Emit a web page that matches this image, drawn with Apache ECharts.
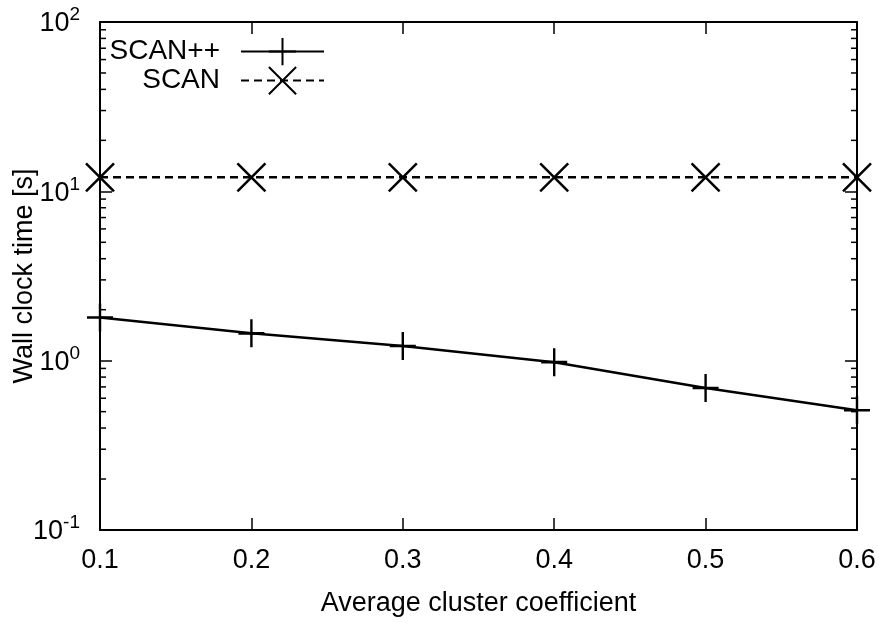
<!DOCTYPE html>
<html>
<head>
<meta charset="utf-8">
<script src="https://cdn.jsdelivr.net/npm/echarts@6/dist/echarts.min.js"></script>
<style>
  html, body { margin: 0; padding: 0; background: #fff; }
  #chart { width: 883px; height: 623px; }
</style>
</head>
<body>
<div id="chart"></div>
<script>
// Average cluster coefficient on the x axis
const coefficients = [0.1, 0.2, 0.3, 0.4, 0.5, 0.6];
// Wall clock time in seconds
const scanPlusPlus = [1.80, 1.45, 1.22, 0.98, 0.69, 0.51];
const scan = [12.1, 12.1, 12.1, 12.1, 12.1, 12.1];
// Minor tick values for the logarithmic y axis
const minorTicks = [];
[0.1, 1, 10].forEach(function (d) {
  for (let k = 2; k <= 9; k++) minorTicks.push(+(k * d).toPrecision(3));
});

const FONT = '"Liberation Sans", Arial, Helvetica, sans-serif';
const plusSymbol = 'path://M0,10L20,10M10,0L10,20';
const crossSymbol = 'path://M0,0L20,20M20,0L0,20';

const chart = echarts.init(document.getElementById('chart'), null, { renderer: 'canvas' });

function pair(arr) {
  return coefficients.map(function (x, i) { return [x, arr[i]]; });
}

const axisLine = { show: true, onZero: false, lineStyle: { color: '#000', width: 2 } };
const majorTick = { show: true, inside: true, length: 12, lineStyle: { color: '#000', width: 1.5 } };

function legendBlock(name, top) {
  return {
    data: [name], top: top, right: 883 - 325, align: 'right', padding: 0,
    itemWidth: 83, itemHeight: 34, selectedMode: false,
    textStyle: { fontSize: 28, fontFamily: FONT, color: '#000', padding: [0, 16, 0, 0] }
  };
}

const option = {
  animation: false,
  backgroundColor: '#fff',
  textStyle: { fontFamily: FONT, color: '#000' },
  grid: { left: 100, right: 26, top: 22, bottom: 93, containLabel: false, outerBoundsMode: 'none' },
  legend: [legendBlock('SCAN++', 37), legendBlock('SCAN', 66)],
  xAxis: [
    {
      type: 'value', min: 0.1, max: 0.6, interval: 0.1, position: 'bottom',
      name: 'Average cluster coefficient', nameLocation: 'middle', nameGap: 60,
      nameTextStyle: { fontSize: 27, fontFamily: FONT, color: '#000' },
      axisLine: axisLine, axisTick: majorTick, splitLine: { show: false },
      axisLabel: {
        fontSize: 27, fontFamily: FONT, color: '#000', margin: 17,
        formatter: function (v) { return v.toFixed(1); }
      }
    },
    {
      type: 'value', min: 0.1, max: 0.6, interval: 0.1, position: 'top',
      axisLine: axisLine, axisTick: majorTick, splitLine: { show: false },
      axisLabel: { show: false }
    }
  ],
  yAxis: [
    {
      type: 'log', logBase: 10, min: 0.1, max: 100, interval: 1, position: 'left',
      name: 'Wall clock time [s]', nameLocation: 'middle', nameGap: 62, nameMoveOverlap: false,
      nameTextStyle: { fontSize: 27, fontFamily: FONT, color: '#000' },
      axisLine: axisLine, axisTick: majorTick, splitLine: { show: false },
      axisLabel: {
        margin: 20, color: '#000',
        formatter: function (v) {
          const e = Math.round(Math.log10(v));
          return '{b|10}{s|' + e + '}';
        },
        rich: {
          b: { fontSize: 27, fontFamily: FONT, color: '#000', padding: [4, 0, 0, 0] },
          s: { fontSize: 19, fontFamily: FONT, color: '#000', padding: [0, 0, 14, 0] }
        }
      }
    },
    {
      type: 'log', logBase: 10, min: 0.1, max: 100, interval: 1, position: 'right',
      axisLine: axisLine, axisTick: majorTick, splitLine: { show: false },
      axisLabel: { show: false }
    }
  ],
  series: [
    {
      name: 'minor ticks', type: 'custom', xAxisIndex: 0, yAxisIndex: 0,
      silent: true, clip: false, z: 1,
      data: minorTicks.map(function (v) { return [0.1, v]; }),
      renderItem: function (params, api) {
        const left = api.coord([0.1, api.value(1)]);
        const right = api.coord([0.6, api.value(1)]);
        const style = { stroke: '#000', lineWidth: 1.5 };
        return {
          type: 'group',
          children: [
            { type: 'line', shape: { x1: left[0], y1: left[1], x2: left[0] + 6, y2: left[1] }, style: style },
            { type: 'line', shape: { x1: right[0], y1: right[1], x2: right[0] - 6, y2: right[1] }, style: style }
          ]
        };
      }
    },
    {
      name: 'SCAN++', type: 'line', data: pair(scanPlusPlus), clip: false, z: 3,
      symbol: plusSymbol, symbolSize: [26, 28], showSymbol: true,
      lineStyle: { color: '#000', width: 2.5 },
      itemStyle: { color: '#000', borderColor: '#000', borderWidth: 2.5 }
    },
    {
      name: 'SCAN', type: 'line', data: pair(scan), clip: false, z: 3,
      symbol: crossSymbol, symbolSize: [28, 28], showSymbol: true,
      lineStyle: { color: '#000', width: 2.5, type: [8, 5] },
      itemStyle: { color: '#000', borderColor: '#000', borderWidth: 2.5 }
    }
  ]
};

chart.setOption(option);
</script>
</body>
</html>
